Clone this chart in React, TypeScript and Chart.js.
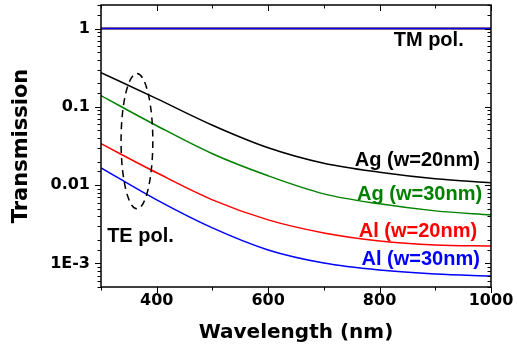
import React, { useEffect, useRef } from 'react';
import { Chart, registerables } from 'chart.js';

Chart.register(...registerables);

// Wavelength (nm)
const wavelengths = [300, 400, 500, 600, 700, 800, 900, 1000];

// TE polarisation transmission
const teAg20 = [0.2737, 0.1272, 0.05826, 0.03003, 0.01902, 0.01459, 0.01205, 0.01071];
const teAg30 = [0.139, 0.05741, 0.02517, 0.01316, 0.00774, 0.005768, 0.004692, 0.004172];
const teAl20 = [0.0338, 0.01438, 0.006492, 0.0036, 0.002454, 0.00194, 0.001723, 0.001673];
const teAl30 = [0.01666, 0.006492, 0.002844, 0.001488, 0.001014, 0.000825, 0.000733, 0.000691];

// TM polarisation transmission
const tmAg20 = [1.0, 1.0, 1.0, 1.0, 1.0, 1.0, 1.0, 1.0];
const tmAg30 = [1.0, 1.0, 1.0, 1.0, 1.0, 1.0, 1.0, 1.0];
const tmAl20 = [1.0, 1.0, 1.0, 1.0, 1.0, 1.0, 1.0, 1.0];
const tmAl30 = [1.0, 1.0, 1.0, 1.0, 1.0, 1.0, 1.0, 1.0];

const seriesNames = ['Ag (w=20nm)', 'Ag (w=30nm)', 'Al (w=20nm)', 'Al (w=30nm)'];
const seriesColors = ['#000000', '#008000', '#ff0000', '#0000ff'];

// Axis ticks
const xMin = 300;
const xMax = 1000;
const xLabelled = [400, 600, 800, 1000];
const yMin = 5e-4;
const yMax = 2;
const yLabelValues = [1, 0.1, 0.01, 0.001];
const yLabelTexts = ['1', '0.1', '0.01', '1E-3'];

// Annotation anchors in data units (wavelength, transmission)
const seriesLabelAnchors = [
  { x: 980, y: 0.0177 },
  { x: 984, y: 0.0065 },
  { x: 975, y: 0.00218 },
  { x: 980, y: 0.000955 },
];
const tmLabel = { text: 'TM pol.', x: 951, y: 0.594 };
const teLabel = { text: 'TE pol.', x: 311, y: 0.00188 };
const ellipseBox = { x0: 336, x1: 393, y0: 0.266, y1: 0.00498 };

const labelFont = 'bold 20px "Liberation Sans", Arial, sans-serif';

const decorPlugin = {
  id: 'decor',
  afterDatasetsDraw(chart: any) {
    const { ctx } = chart;
    const xs = chart.scales.x;
    const ys = chart.scales.y;
    ctx.save();
    const px0 = xs.getPixelForValue(ellipseBox.x0);
    const px1 = xs.getPixelForValue(ellipseBox.x1);
    const py0 = ys.getPixelForValue(ellipseBox.y0);
    const py1 = ys.getPixelForValue(ellipseBox.y1);
    ctx.beginPath();
    ctx.setLineDash([7, 5]);
    ctx.lineWidth = 1.5;
    ctx.strokeStyle = '#000';
    ctx.ellipse((px0 + px1) / 2, (py0 + py1) / 2, Math.abs(px1 - px0) / 2, Math.abs(py1 - py0) / 2, 0, 0, Math.PI * 2);
    ctx.stroke();
    ctx.setLineDash([]);

    ctx.font = labelFont;
    ctx.textBaseline = 'alphabetic';
    ctx.textAlign = 'right';
    seriesLabelAnchors.forEach((a, i) => {
      ctx.fillStyle = seriesColors[i];
      ctx.fillText(seriesNames[i], xs.getPixelForValue(a.x), ys.getPixelForValue(a.y));
    });
    ctx.fillStyle = '#000';
    ctx.fillText(tmLabel.text, xs.getPixelForValue(tmLabel.x), ys.getPixelForValue(tmLabel.y));
    ctx.textAlign = 'left';
    ctx.fillText(teLabel.text, xs.getPixelForValue(teLabel.x), ys.getPixelForValue(teLabel.y));
    ctx.restore();
  },
  afterDraw(chart: any) {
    const { ctx, chartArea: ca } = chart;
    const xs = chart.scales.x;
    const ys = chart.scales.y;
    ctx.save();
    ctx.strokeStyle = '#000';
    ctx.lineWidth = 1;
    ctx.beginPath();
    xs.ticks.forEach((t: any) => {
      const p = Math.round(xs.getPixelForValue(t.value)) + 0.5;
      const len = xLabelled.includes(t.value) ? 6 : 3.5;
      ctx.moveTo(p, ca.bottom);
      ctx.lineTo(p, ca.bottom + len);
      ctx.moveTo(p, ca.top);
      ctx.lineTo(p, ca.top + len);
    });
    ys.ticks.forEach((t: any) => {
      const p = Math.round(ys.getPixelForValue(t.value)) + 0.5;
      const l = Math.log10(t.value);
      const len = Math.abs(l - Math.round(l)) < 1e-6 ? 6 : 3.5;
      ctx.moveTo(ca.left - len, p);
      ctx.lineTo(ca.left, p);
      ctx.moveTo(ca.right - len, p);
      ctx.lineTo(ca.right, p);
    });
    ctx.stroke();
    ctx.lineWidth = 1.5;
    ctx.strokeRect(ca.left, ca.top, ca.right - ca.left, ca.bottom - ca.top);
    ctx.restore();
  },
};

export default function App() {
  const ref = useRef<HTMLCanvasElement | null>(null);
  useEffect(() => {
    if (!ref.current) return;
    const mk = (label: string, data: number[], color: string) => ({
      label,
      data: wavelengths.map((w, i) => ({ x: w, y: data[i] })),
      borderColor: color,
      backgroundColor: color,
      borderWidth: 1.5,
      pointRadius: 0,
      fill: false,
      cubicInterpolationMode: 'monotone' as const,
    });
    const chart = new Chart(ref.current, {
      type: 'line',
      data: {
        datasets: [
          mk('TM ' + seriesNames[3], tmAl30, seriesColors[3]),
          mk('TM ' + seriesNames[2], tmAl20, seriesColors[2]),
          mk('TM ' + seriesNames[1], tmAg30, seriesColors[1]),
          mk('TM ' + seriesNames[0], tmAg20, seriesColors[0]),
          mk('TE ' + seriesNames[0], teAg20, seriesColors[0]),
          mk('TE ' + seriesNames[1], teAg30, seriesColors[1]),
          mk('TE ' + seriesNames[2], teAl20, seriesColors[2]),
          mk('TE ' + seriesNames[3], teAl30, seriesColors[3]),
        ],
      },
      options: {
        animation: false,
        responsive: false,
        layout: { padding: { top: 5, right: 26, left: 0, bottom: 0 } },
        plugins: { legend: { display: false }, tooltip: { enabled: false } },
        scales: {
          x: {
            type: 'linear',
            min: xMin,
            max: xMax,
            grid: { display: false, drawTicks: false },
            border: { display: false },
            afterFit: (s: any) => { s.height = 64; s.paddingLeft = 0; s.paddingRight = 0; },
            ticks: {
              stepSize: 100,
              autoSkip: false,
              maxRotation: 0,
              padding: 4,
              color: '#000',
              font: { family: 'DejaVu Sans', weight: 'bold', size: 16 },
              callback: (v: any) => (xLabelled.includes(Number(v)) ? String(v) : ''),
            },
            title: {
              display: true,
              text: 'Wavelength (nm)',
              color: '#000',
              font: { family: 'DejaVu Sans', weight: 'bold', size: 20 },
              padding: { top: 0, bottom: 6 },
            },
          },
          y: {
            type: 'logarithmic',
            min: yMin,
            max: yMax,
            grid: { display: false, drawTicks: false },
            border: { display: false },
            afterFit: (s: any) => { s.width = 101; s.paddingTop = 0; s.paddingBottom = 0; },
            ticks: {
              autoSkip: false,
              padding: 11,
              color: '#000',
              font: { family: 'DejaVu Sans', weight: 'bold', size: 16 },
              callback: (v: any) => {
                const idx = yLabelValues.findIndex((d) => Math.abs(Math.log10(Number(v)) - Math.log10(d)) < 1e-6);
                return idx >= 0 ? yLabelTexts[idx] : '';
              },
            },
            title: {
              display: true,
              text: 'Transmission',
              color: '#000',
              font: { family: 'DejaVu Sans', weight: 'bold', size: 21 },
              padding: { top: 9, bottom: 0 },
            },
          },
        },
      },
      plugins: [decorPlugin],
    });
    return () => chart.destroy();
  }, []);
  return (
    <div style={{ position: 'fixed', left: 0, top: 0, width: 517, height: 351, background: '#fff' }}>
      <canvas ref={ref} width={517} height={351} />
    </div>
  );
}
